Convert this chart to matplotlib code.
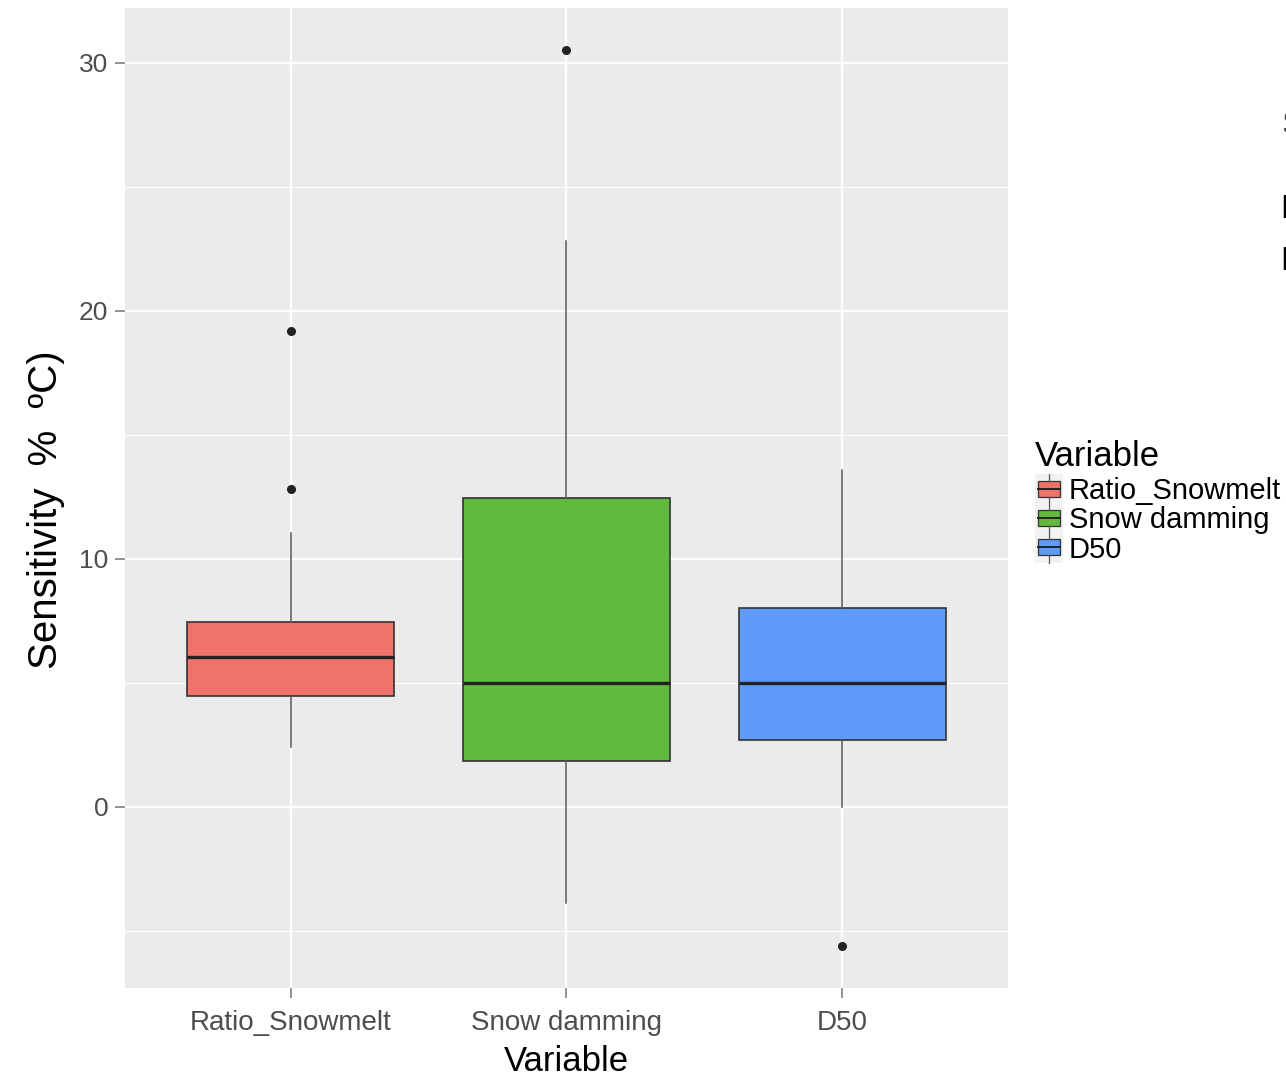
import matplotlib.pyplot as plt
import matplotlib.patches as mpatches
import matplotlib.lines as mlines
from matplotlib.legend_handler import HandlerBase

# values
categories = ['Ratio_Snowmelt', 'Snow damming', 'D50']
colors = ['#F0736A', '#61BA3B', '#5E9BFA']
q1 = [4.48, 1.85, 2.70]
median = [6.05, 5.0, 5.0]
q3 = [7.46, 12.46, 8.02]
whis_lo = [2.42, -3.87, 0.0]
whis_hi = [11.05, 22.8, 13.6]
outliers = [[12.8, 19.2], [30.5], [-5.6]]

y_ticks = [0, 10, 20, 30]
y_minor = [-5, 5, 15, 25]

plt.rcParams['font.family'] = ['Liberation Sans', 'DejaVu Sans']

fig = plt.figure(figsize=(12.86, 10.78), dpi=100, facecolor='white')
ax = fig.add_axes([0.0972, 0.0835, 0.6866, 0.909])
ax.set_facecolor('#EBEBEB')

# grid
for y in y_ticks:
    ax.axhline(y, color='white', lw=1.6, zorder=0)
for y in y_minor:
    ax.axhline(y, color='white', lw=0.8, zorder=0)
for x in range(1, len(categories) + 1):
    ax.axvline(x, color='white', lw=1.6, zorder=0)

stats = []
for i, name in enumerate(categories):
    stats.append({'label': name, 'q1': q1[i], 'med': median[i], 'q3': q3[i],
                  'whislo': whis_lo[i], 'whishi': whis_hi[i], 'fliers': outliers[i]})

bp = ax.bxp(stats, positions=[1, 2, 3], widths=0.75, patch_artist=True,
            showcaps=False,
            boxprops=dict(edgecolor='#333333', linewidth=1.2),
            medianprops=dict(color='#222222', linewidth=2.4),
            whiskerprops=dict(color='#555555', linewidth=1.1),
            flierprops=dict(marker='o', markerfacecolor='#222222', markeredgecolor='#222222',
                            markersize=5.5), zorder=2)
for patch, c in zip(bp['boxes'], colors):
    patch.set_facecolor(c)

ax.set_xlim(0.4, 3.6)
ax.set_ylim(-7.3, 32.2)
ax.set_yticks(y_ticks)
ax.set_xticks([1, 2, 3])
ax.set_xticklabels(categories)
for s in ax.spines.values():
    s.set_visible(False)
ax.tick_params(axis='both', colors='#7F7F7F', labelcolor='#4D4D4D', labelsize=19,
               length=7, width=1.2)
ax.tick_params(axis='x', labelsize=20, pad=9)
ax.tick_params(axis='y', pad=5)

ax.set_xlabel('Variable', fontsize=25, labelpad=6, color='black')
ax.set_ylabel('Sensitivity  %  ºC)', fontsize=29, color='black')
ax.yaxis.set_label_coords(-0.068, 0.488)


class BoxKey(HandlerBase):
    def create_artists(self, legend, orig_handle, x0, y0, width, height, fontsize, trans):
        bg = mpatches.Rectangle((x0, y0 - 0.25 * height), width, height * 1.5,
                                facecolor='#F2F2F2', edgecolor='none', transform=trans)
        box = mpatches.Rectangle((x0 + 0.1 * width, y0 + 0.1 * height), 0.8 * width, 0.8 * height,
                                 facecolor=orig_handle.get_facecolor(), edgecolor='#333333',
                                 lw=0.9, transform=trans)
        med = mlines.Line2D([x0 + 0.1 * width, x0 + 0.9 * width], [y0 + 0.5 * height] * 2,
                            color='#222222', lw=1.4, transform=trans)
        wl = mlines.Line2D([x0 + 0.5 * width] * 2, [y0 - 0.25 * height, y0 + 0.1 * height],
                           color='#555555', lw=0.9, transform=trans)
        wh = mlines.Line2D([x0 + 0.5 * width] * 2, [y0 + 0.9 * height, y0 + 1.25 * height],
                           color='#555555', lw=0.9, transform=trans)
        return [bg, box, med, wl, wh]


handles = [mpatches.Patch(facecolor=c) for c in colors]
leg = fig.legend(handles, categories, title='Variable', loc='upper left',
                 bbox_to_anchor=(1035 / 1286, 1 - 440 / 1078), frameon=False,
                 fontsize=21, title_fontsize=25, handlelength=0.95, handleheight=0.7,
                 handletextpad=0.2, labelspacing=0.04, borderpad=0, borderaxespad=0,
                 handler_map={mpatches.Patch: BoxKey()})
leg._legend_box.align = 'left'
leg._legend_box.sep = 3

# fragments of slide text cut off at the right edge
fig.text(1281 / 1286, 1 - 125 / 1078, 'S', fontsize=24, color='#444444', va='center')
fig.text(1280 / 1286, 1 - 210 / 1078, 'D', fontsize=24, color='black', va='center')
fig.text(1280 / 1286, 1 - 262 / 1078, 'D', fontsize=24, color='black', va='center')

fig.savefig('out.png', dpi=100, facecolor='white')
